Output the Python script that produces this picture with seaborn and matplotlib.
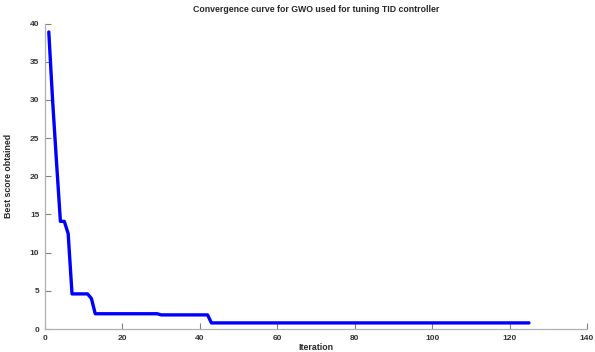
import numpy as np
import pandas as pd
import matplotlib
matplotlib.use("Agg")
import matplotlib.pyplot as plt
import seaborn as sns

# convergence values (iterations 1..125)
head_scores = [38.9, 29.8, 21.8, 14.1, 14.1, 12.5, 4.6, 4.6, 4.6, 4.6, 4.6, 4.0, 2.0]
plateau_2 = [2.0] * 16        # iterations 14..29
plateau_185 = [1.85] * 13     # iterations 30..42
plateau_08 = [0.8] * 83       # iterations 43..125

scores = head_scores + plateau_2 + plateau_185 + plateau_08
iters = list(range(1, len(scores) + 1))

df = pd.DataFrame({"Iteration": iters, "Best score obtained": scores})

sns.set_theme(style="white")
plt.rcParams["font.family"] = ["Liberation Sans", "DejaVu Sans"]

fig = plt.figure(figsize=(5.95, 3.52), dpi=100)
ax = fig.add_axes([0.0755, 0.0653, 0.9111, 0.8677])

sns.lineplot(data=df, x="Iteration", y="Best score obtained", color="#0000ff",
             linewidth=2.4, ax=ax)

ax.set_xlim(0, 140)
ax.set_ylim(0, 40)
ax.set_xticks(np.arange(0, 141, 20))
ax.set_yticks(np.arange(0, 41, 5))

sns.despine(ax=ax)
for s in ["left", "bottom"]:
    ax.spines[s].set_color("#b0b0b0")
    ax.spines[s].set_linewidth(0.9)
ax.tick_params(bottom=True, left=True, direction="in", length=4, width=0.8,
               color="#808080", labelsize=6, labelcolor="#333333", pad=4)
for lab in ax.get_xticklabels() + ax.get_yticklabels():
    lab.set_fontweight("bold")

ax.set_title("Convergence curve for GWO used for tuning TID controller",
             fontsize=6.3, fontweight="bold", pad=8)
ax.set_xlabel("Iteration", fontsize=6.3, fontweight="bold", labelpad=1)
ax.set_ylabel("Best score obtained", fontsize=6.3, fontweight="bold", labelpad=12)

fig.savefig("out.png", dpi=100)
